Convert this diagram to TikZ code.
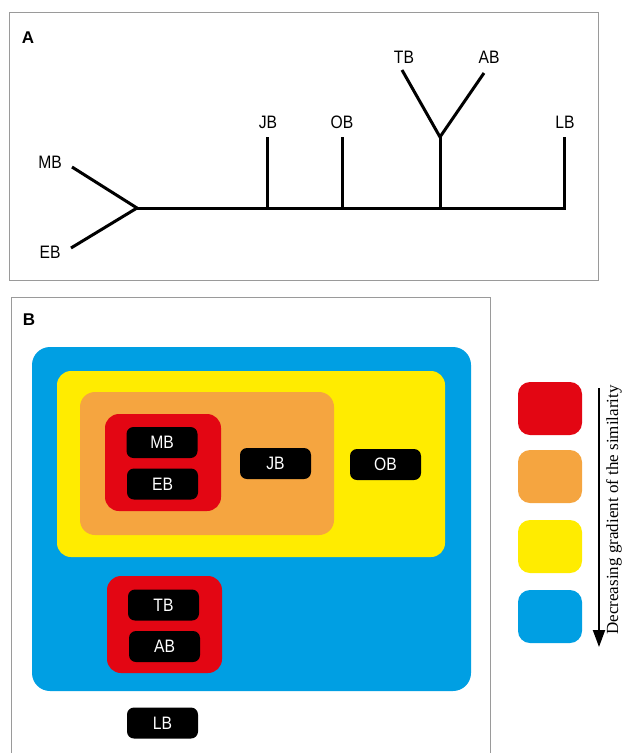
\documentclass[tikz,border=0pt]{standalone}
\usepackage{fontspec}
\setmainfont{Liberation Sans}
\newfontfamily\serifrm{Liberation Serif}
\usetikzlibrary{arrows.meta}
\definecolor{cred}{HTML}{E30613}
\definecolor{corange}{HTML}{F5A540}
\definecolor{cyellow}{HTML}{FFEC00}
\definecolor{cblue}{HTML}{009FE3}
\definecolor{frame}{HTML}{9A9A9A}
\tikzset{
  panelframe/.style={draw=frame, line width=0.9pt},
  treeline/.style={line width=3pt, line join=miter},
  tlabel/.style={font=\fontsize{18}{21}\selectfont, inner sep=0pt, xscale=0.87},
  plabel/.style={font=\bfseries\fontsize{17}{20}\selectfont, inner sep=0pt},
  region/.style={rectangle, draw=none, inner sep=0pt},
  taxon/.style={rectangle, fill=black, rounded corners=7pt, minimum width=71pt, minimum height=31pt, inner sep=0pt},
  taxontext/.style={text=white, font=\fontsize{18}{21}\selectfont, inner sep=0pt, xscale=0.87},
  legendsq/.style={rectangle, draw=none, rounded corners=12pt, minimum width=64pt, minimum height=53pt, inner sep=0pt},
}
\begin{document}
\begin{tikzpicture}[x=1pt, y=-1pt]
\useasboundingbox (0,0) rectangle (622,753);
% ---------- Panel A ----------
\draw[panelframe] (9.5,12.7) rectangle (598,280);
\node[plabel] (labA) at (28,38) {A};
\coordinate (root) at (137,208);
\coordinate (mbE) at (72,167);
\coordinate (ebE) at (71,248);
\coordinate (jbT) at (267,137);
\coordinate (jbB) at (267,208);
\coordinate (obT) at (342,137);
\coordinate (obB) at (342,208);
\coordinate (fork) at (440,137);
\coordinate (forkB) at (440,208);
\coordinate (tbE) at (402,70);
\coordinate (abE) at (484,73);
\coordinate (lbB) at (564,208);
\coordinate (lbT) at (564,137);
\draw[treeline] (mbE) -- (root) -- (ebE);
\draw[treeline] (root) -- (lbB) -- (lbT);
\draw[treeline] (jbB) -- (jbT);
\draw[treeline] (obB) -- (obT);
\draw[treeline] (forkB) -- (fork);
\draw[treeline] (tbE) -- (fork) -- (abE);
\node[tlabel] (tMB) at (50,162) {MB};
\node[tlabel] (tEB) at (50,252) {EB};
\node[tlabel] (tJB) at (268,122) {JB};
\node[tlabel] (tOB) at (342,122) {OB};
\node[tlabel] (tTB) at (404,57) {TB};
\node[tlabel] (tAB) at (489,57) {AB};
\node[tlabel] (tLB) at (565,122) {LB};
% ---------- Panel B ----------
\draw[panelframe] (11,753) -- (11,297) -- (490,297) -- (490,753);
\node[plabel] (labB) at (29,320) {B};
\node[region, fill=cblue, rounded corners=18pt, minimum width=439pt, minimum height=344pt] (blue) at (251.5,519) {};
\node[region, fill=cyellow, rounded corners=14pt, minimum width=388pt, minimum height=186pt] (yellow) at (251,464) {};
\node[region, fill=corange, rounded corners=15pt, minimum width=254pt, minimum height=143pt] (orange) at (207,463.5) {};
\node[region, fill=cred, rounded corners=14pt, minimum width=116pt, minimum height=97pt] (red1) at (163,462.5) {};
\node[region, fill=cred, rounded corners=14pt, minimum width=115pt, minimum height=97pt] (red2) at (164.5,624.5) {};
\node[taxon] (bMB) at (162,442.5) {};
\node[taxon] (bEB) at (162.5,484) {};
\node[taxon] (bJB) at (275.5,463.5) {};
\node[taxon] (bOB) at (385.5,464.5) {};
\node[taxon] (bTB) at (163.5,605) {};
\node[taxon] (bAB) at (164.5,646.5) {};
\node[taxon] (bLB) at (162.5,723) {};
\node[taxontext] (xMB) at (bMB) {MB};
\node[taxontext] (xEB) at (bEB) {EB};
\node[taxontext] (xJB) at (bJB) {JB};
\node[taxontext] (xOB) at (bOB) {OB};
\node[taxontext] (xTB) at (bTB) {TB};
\node[taxontext] (xAB) at (bAB) {AB};
\node[taxontext] (xLB) at (bLB) {LB};
% ---------- Legend ----------
\node[legendsq, fill=cred] (lgR) at (550,408.5) {};
\node[legendsq, fill=corange] (lgO) at (550,476.5) {};
\node[legendsq, fill=cyellow] (lgY) at (550,546.5) {};
\node[legendsq, fill=cblue] (lgB) at (550,616.5) {};
\coordinate (arS) at (599,388);
\coordinate (arE) at (599,647);
\draw[line width=2pt, -{Triangle[length=17pt,width=12pt]}] (arS) -- (arE);
\node[rotate=90, inner sep=0pt, font=\serifrm\fontsize{17}{19}\selectfont] (grad) at (614,510) {Decreasing gradient of the similarity};
\end{tikzpicture}
\end{document}
